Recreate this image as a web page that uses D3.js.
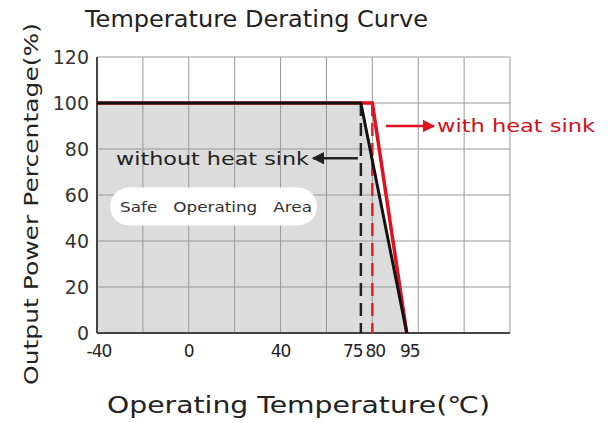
<!DOCTYPE html>
<html lang="en">
    <head>
        <meta charset="utf-8">
        <title>Temperature Derating Curve</title>
        <script src="https://d3js.org/d3.v7.min.js"></script>
        <style type="text/css">
         body { margin: 0; background: #fff; }
         text { font-family: "DejaVu Sans", sans-serif; }
        </style>
    </head>
    <body>
        <script>
         // data
         var xTicks = [-40, 0, 40, 75, 80, 95];
         var xGrid = [-40, -20, 0, 20, 40, 60, 80, 100, 120, 140];
         var yTicks = [0, 20, 40, 60, 80, 100, 120];
         var withoutSink = [[-40, 100], [75, 100], [95, 0]];
         var withSink = [[-40, 100], [80, 100], [95, 0]];
         var xTickDx = [2, 0, 0, -8, 3, 3];

         var width = 608, height = 423;
         var margin = {top: 57, right: 98, bottom: 90, left: 97};

         var svg = d3.select("body").append("svg")
                     .attr("width", width)
                     .attr("height", height);

         var x = d3.scaleLinear().domain([-40, 140]).range([margin.left, width - margin.right]);
         var y = d3.scaleLinear().domain([0, 120]).range([height - margin.bottom, margin.top]);

         //safe area fill under black curve
         var area = d3.area().x(function(d) { return x(d[0]); }).y0(y(0)).y1(function(d) { return y(d[1]); });
         svg.append("path").datum(withoutSink).attr("d", area).attr("fill", "#dcdcdc");

         //grid
         svg.selectAll(".vg").data(xGrid).enter().append("line")
            .attr("x1", x).attr("x2", x).attr("y1", y(0)).attr("y2", y(120))
            .attr("stroke", "#999").attr("stroke-width", 1);
         svg.selectAll(".hg").data(yTicks).enter().append("line")
            .attr("x1", x(-40)).attr("x2", x(140)).attr("y1", y).attr("y2", y)
            .attr("stroke", "#999").attr("stroke-width", 1);

         //axes lines
         svg.append("line").attr("x1", x(-40)).attr("x2", x(-40)).attr("y1", y(0)).attr("y2", y(120))
            .attr("stroke", "#444").attr("stroke-width", 2);
         svg.append("line").attr("x1", x(-40)).attr("x2", x(140)).attr("y1", y(0)).attr("y2", y(0))
            .attr("stroke", "#444").attr("stroke-width", 2);

         //tick labels
         svg.selectAll(".yt").data(yTicks).enter().append("text")
            .attr("x", x(-40) - 8).attr("y", y).attr("dy", "0.36em")
            .attr("text-anchor", "end").attr("font-size", 19).attr("fill", "#333")
            .text(function(d) { return d; });
         svg.selectAll(".xt").data(xTicks).enter().append("text")
            .attr("x", function(d, i) { return x(d) + xTickDx[i]; }).attr("y", y(0) + 24)
            .attr("text-anchor", "middle").attr("font-size", 17).attr("letter-spacing", -1).attr("fill", "#222")
            .text(function(d) { return d; });

         //safe operating area pill
         svg.append("rect").attr("x", 110).attr("y", y(55) - 19).attr("width", 207).attr("height", 38)
            .attr("rx", 19).attr("fill", "#fff");
         svg.append("text").attr("x", 120).attr("y", y(55)).attr("dy", "0.36em")
            .attr("font-size", 14).attr("fill", "#333")
            .style("white-space", "pre")
            .attr("textLength", 192).attr("lengthAdjust", "spacingAndGlyphs")
            .text("Safe   Operating   Area");

         //dashed lines
         svg.append("line").attr("x1", x(75)).attr("x2", x(75)).attr("y1", y(100)).attr("y2", y(0))
            .attr("stroke", "#222").attr("stroke-width", 2.5).attr("stroke-dasharray", "13,7");
         svg.append("line").attr("x1", x(80)).attr("x2", x(80)).attr("y1", y(100)).attr("y2", y(0))
            .attr("stroke", "#e0202a").attr("stroke-width", 2.5).attr("stroke-dasharray", "13,7");

         //curves
         var line = d3.line().x(function(d) { return x(d[0]); }).y(function(d) { return y(d[1]); });
         svg.append("path").datum(withSink).attr("d", line)
            .attr("fill", "none").attr("stroke", "#e0101e").attr("stroke-width", 3.5);
         svg.append("path").datum(withoutSink).attr("d", line)
            .attr("fill", "none").attr("stroke", "#111").attr("stroke-width", 3);

         //arrows
         svg.append("defs").selectAll("marker").data([["blk", "#222"], ["red", "#e0101e"]]).enter()
            .append("marker").attr("id", function(d) { return d[0]; })
            .attr("viewBox", "0 0 10 10").attr("refX", 9).attr("refY", 5)
            .attr("markerWidth", 5).attr("markerHeight", 5).attr("orient", "auto")
            .append("path").attr("d", "M0,0L10,5L0,10z").attr("fill", function(d) { return d[1]; });

         svg.append("line").attr("x1", x(75) - 3).attr("x2", 313).attr("y1", y(76)).attr("y2", y(76))
            .attr("stroke", "#222").attr("stroke-width", 2.5).attr("marker-end", "url(#blk)");
         svg.append("text").attr("x", 116).attr("y", y(76)).attr("dy", "0.36em")
            .attr("font-size", 18).attr("fill", "#222")
            .attr("textLength", 193).attr("lengthAdjust", "spacingAndGlyphs")
            .text("without heat sink");

         svg.append("line").attr("x1", 386).attr("x2", 434).attr("y1", y(90)).attr("y2", y(90))
            .attr("stroke", "#e0101e").attr("stroke-width", 2.5).attr("marker-end", "url(#red)");
         svg.append("text").attr("x", 437).attr("y", y(90)).attr("dy", "0.36em")
            .attr("font-size", 18).attr("fill", "#d01020")
            .attr("textLength", 158).attr("lengthAdjust", "spacingAndGlyphs")
            .text("with heat sink");

         //titles
         svg.append("text").attr("x", 85).attr("y", 27)
            .attr("font-size", 23).attr("fill", "#222")
            .attr("textLength", 343).attr("lengthAdjust", "spacingAndGlyphs")
            .text("Temperature Derating Curve");
         svg.append("text").attr("transform", "translate(38,385) rotate(-90)")
            .attr("font-size", 20).attr("fill", "#222")
            .attr("textLength", 362).attr("lengthAdjust", "spacingAndGlyphs")
            .text("Output Power Percentage(%)");
         svg.append("text").attr("x", 107).attr("y", 413)
            .attr("font-size", 23).attr("fill", "#222")
            .attr("textLength", 383).attr("lengthAdjust", "spacingAndGlyphs")
            .text("Operating Temperature(\u2103)");
        </script>
    </body>
</html>
